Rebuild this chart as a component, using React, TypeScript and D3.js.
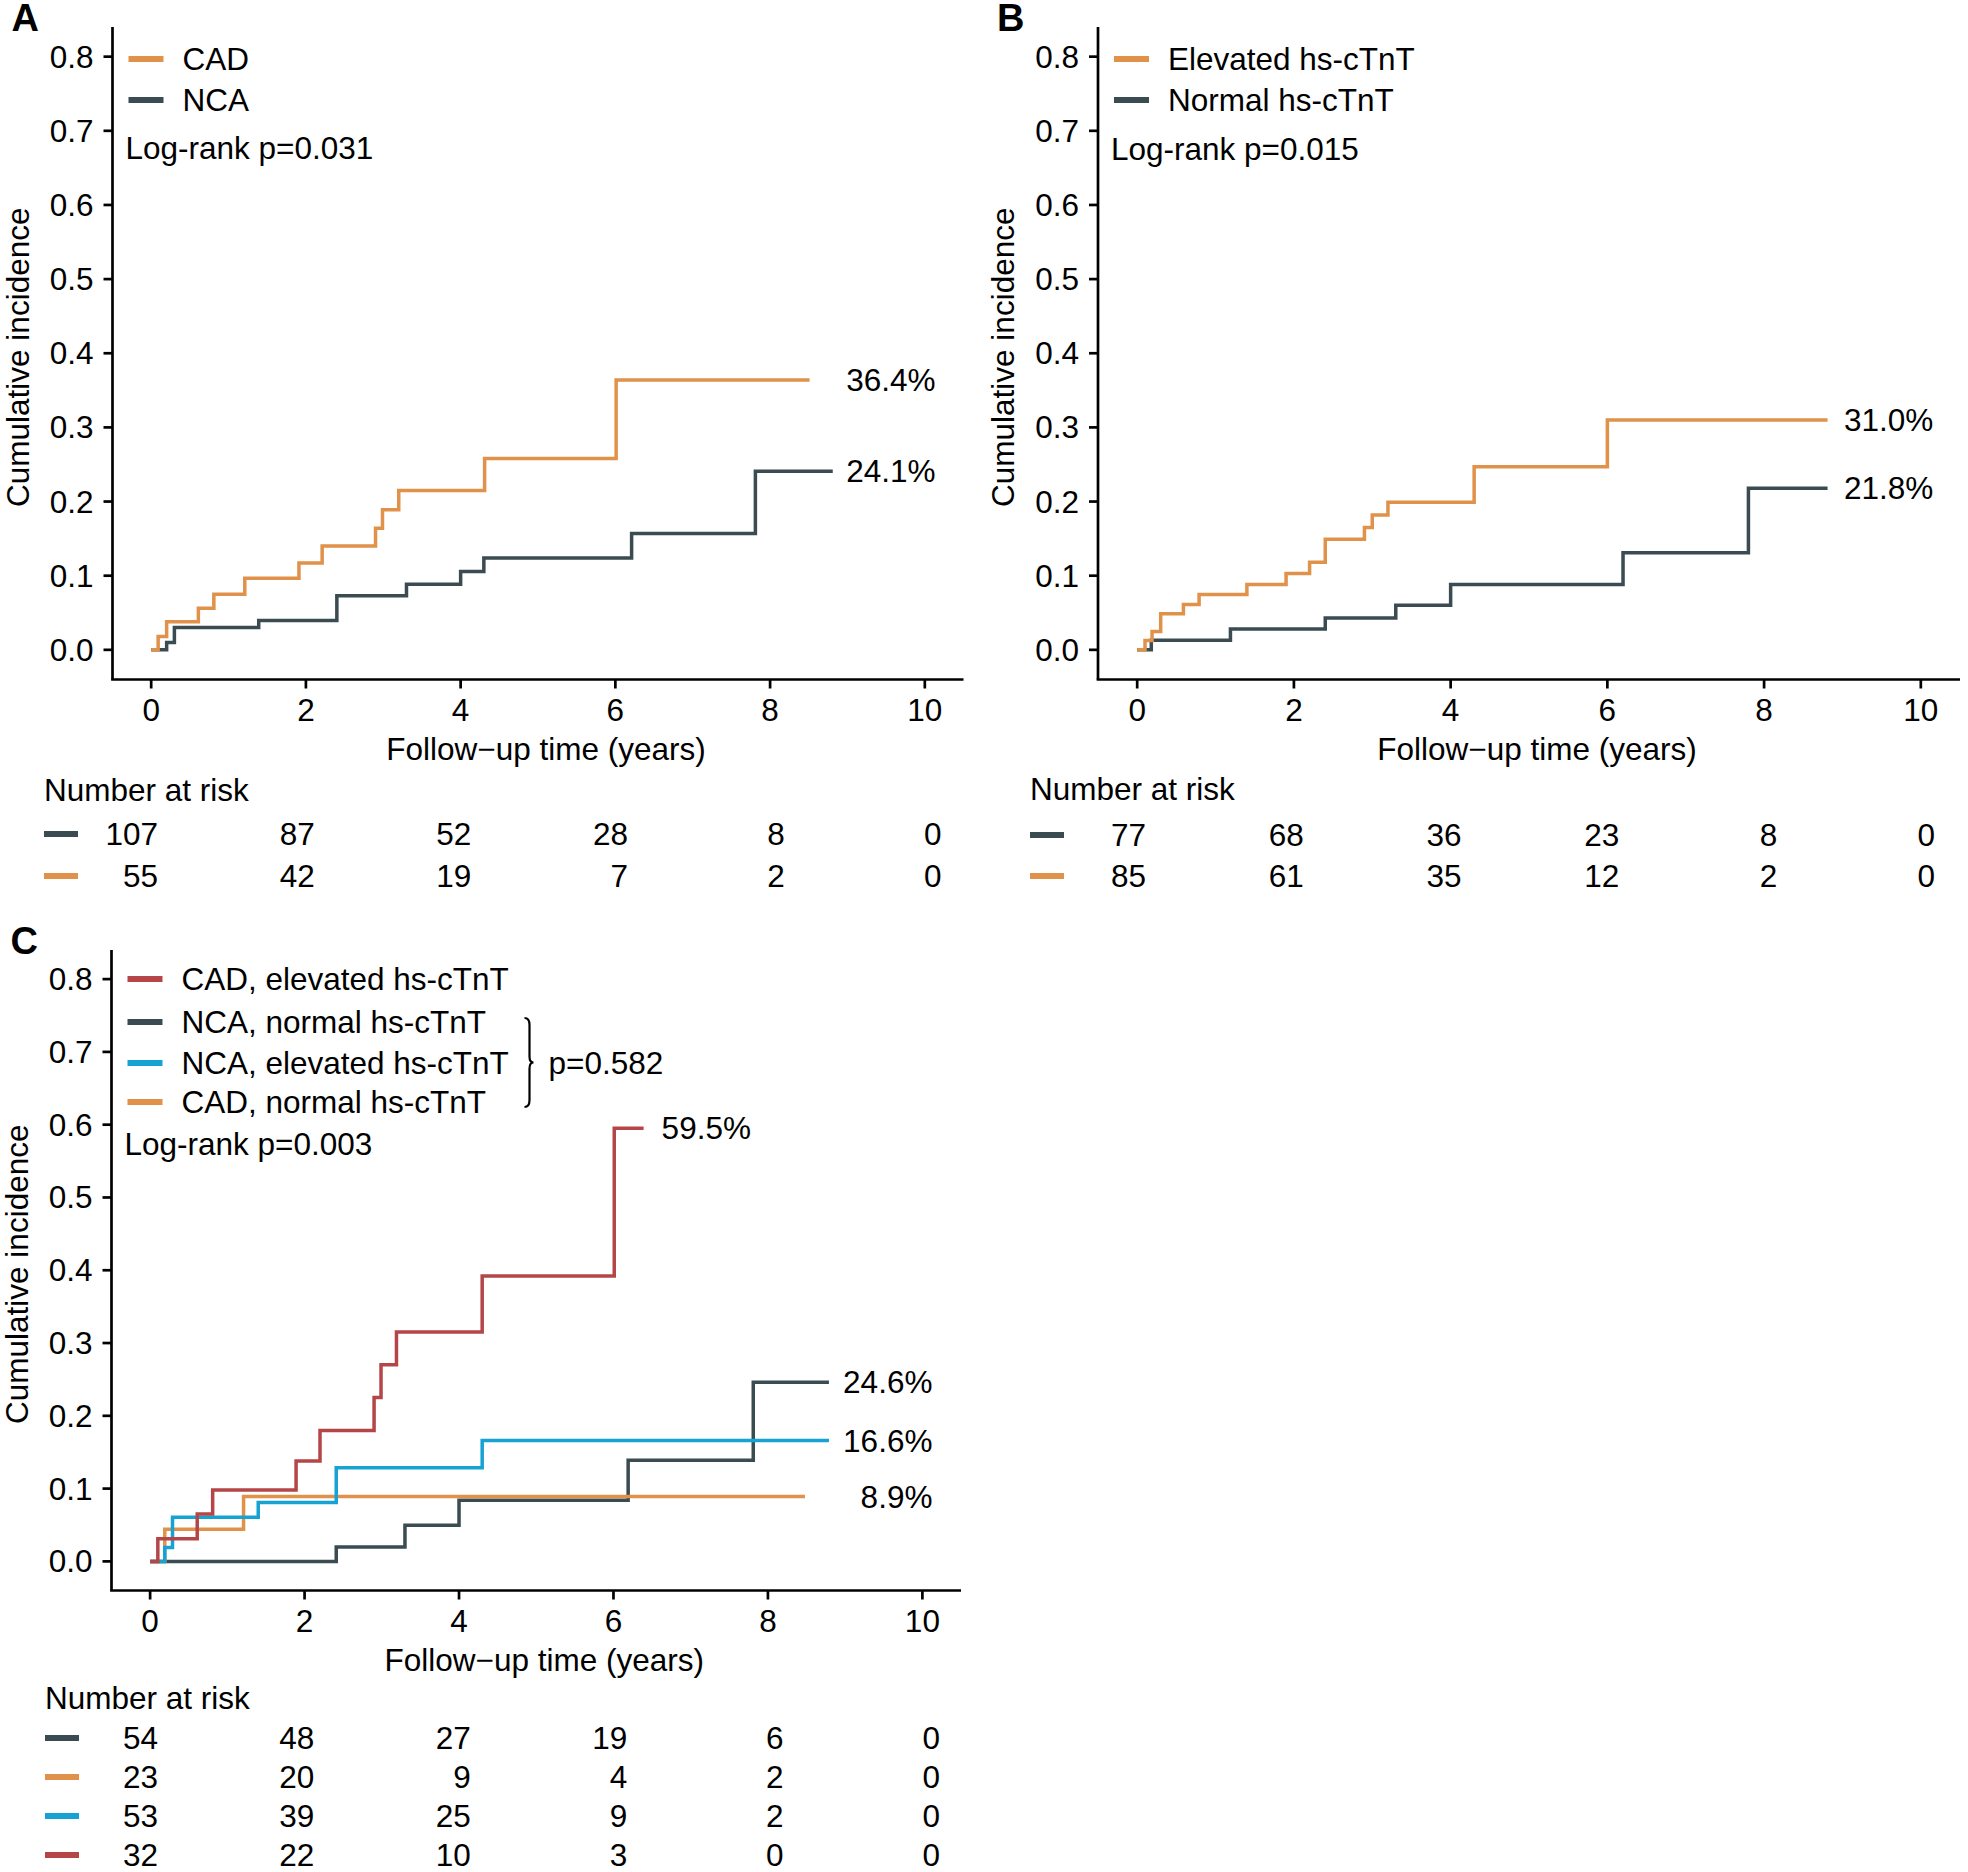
import React from "react";
import * as d3 from "d3";

// ---------- DATA ----------
const ORANGE = "#E0914A";
const DARK = "#3A4B52";
const RED = "#B44648";
const BLUE = "#17A2D4";

// Panel A
const aNcaTimes = [0, 0.2, 0.3, 1.39, 2.4, 3.3, 4.0, 4.3, 6.21, 7.81];
const aNcaValues = [0, 0.0098, 0.03, 0.0395, 0.073, 0.0885, 0.1055, 0.124, 0.157, 0.241];
const aNcaEnd = 8.81;
const aCadTimes = [0, 0.09, 0.2, 0.61, 0.81, 1.21, 1.91, 2.21, 2.9, 2.99, 3.2, 4.31, 6.01];
const aCadValues = [0, 0.018, 0.038, 0.056, 0.075, 0.0966, 0.117, 0.14, 0.164, 0.189, 0.215, 0.258, 0.364];
const aCadEnd = 8.51;

// Panel B
const bNormTimes = [0, 0.18, 1.19, 2.4, 3.3, 4.0, 6.2, 7.8];
const bNormValues = [0, 0.013, 0.028, 0.043, 0.06, 0.088, 0.131, 0.218];
const bNormEnd = 8.81;
const bElevTimes = [0, 0.1, 0.19, 0.3, 0.59, 0.79, 1.4, 1.9, 2.2, 2.4, 2.9, 3.0, 3.2, 4.3, 6.0];
const bElevValues = [0, 0.0126, 0.0247, 0.0488, 0.061, 0.0747, 0.088, 0.103, 0.118, 0.149, 0.165, 0.182, 0.199, 0.247, 0.31];
const bElevEnd = 8.81;

// Panel C
const cNcaNormTimes = [0, 2.41, 3.3, 4.0, 6.19, 7.81];
const cNcaNormValues = [0, 0.0199, 0.0496, 0.084, 0.139, 0.246];
const cNcaNormEnd = 8.79;
const cCadNormTimes = [0, 0.19, 1.21];
const cCadNormValues = [0, 0.044, 0.089];
const cCadNormEnd = 8.48;
const cNcaElevTimes = [0, 0.19, 0.29, 1.4, 2.41, 4.3];
const cNcaElevValues = [0, 0.019, 0.0605, 0.081, 0.1286, 0.166];
const cNcaElevEnd = 8.79;
const cCadElevTimes = [0, 0.1, 0.61, 0.81, 1.89, 2.2, 2.9, 2.99, 3.19, 4.3, 6.01];
const cCadElevValues = [0, 0.031, 0.065, 0.098, 0.138, 0.18, 0.225, 0.27, 0.315, 0.392, 0.595];
const cCadElevEnd = 6.39;

// Axis ticks
const xTicks = [0, 2, 4, 6, 8, 10];
const yTicks = [0, 0.1, 0.2, 0.3, 0.4, 0.5, 0.6, 0.7, 0.8];

// Risk tables
const riskTimes = [0, 2, 4, 6, 8, 10];
const aRiskNca = [107, 87, 52, 28, 8, 0];
const aRiskCad = [55, 42, 19, 7, 2, 0];
const bRiskNorm = [77, 68, 36, 23, 8, 0];
const bRiskElev = [85, 61, 35, 12, 2, 0];
const cRiskNcaNorm = [54, 48, 27, 19, 6, 0];
const cRiskCadNorm = [23, 20, 9, 4, 2, 0];
const cRiskNcaElev = [53, 39, 25, 9, 2, 0];
const cRiskCadElev = [32, 22, 10, 3, 0, 0];

// End labels
const aLabels = ["36.4%", "24.1%"];
const bLabels = ["31.0%", "21.8%"];
const cLabels = ["59.5%", "24.6%", "16.6%", "8.9%"];

const FONT = "'Liberation Sans', Arial, Helvetica, sans-serif";
const FS = 31.5;

type Series = { times: number[]; values: number[]; end: number; color: string };

function stepPath(s: Series, x: d3.ScaleLinear<number, number>, y: d3.ScaleLinear<number, number>) {
  const pts: [number, number][] = s.times.map((t, i) => [t, s.values[i]]);
  pts.push([s.end, s.values[s.values.length - 1]]);
  const line = d3
    .line<[number, number]>()
    .x((d) => x(d[0]))
    .y((d) => y(d[1]))
    .curve(d3.curveStepAfter);
  return line(pts) || "";
}

type PanelProps = {
  letter: string;
  left: number;
  right: number;
  top: number;
  bottom: number;
  series: Series[];
  legend: { label: string; color: string; y: number }[];
  logrank: { text: string; y: number };
  endLabels: { text: string; t: number; v: number }[];
  brace?: boolean;
};

function Panel(p: PanelProps) {
  const x = d3.scaleLinear().domain([-0.5, 10.5]).range([p.left, p.right]);
  const y = d3.scaleLinear().domain([-0.04, 0.84]).range([p.bottom, p.top]);
  const tick = 9;
  return (
    <g fontFamily={FONT} fontSize={FS} fill="#000">
      <text x={p.left - 101} y={p.top + 4} fontWeight="bold" fontSize={38}>
        {p.letter}
      </text>
      {/* axes */}
      <line x1={p.left} x2={p.left} y1={p.top} y2={p.bottom} stroke="#000" strokeWidth={2.7} />
      <line x1={p.left - 1.35} x2={p.right} y1={p.bottom} y2={p.bottom} stroke="#000" strokeWidth={2.7} />
      {yTicks.map((v) => (
        <g key={"y" + v}>
          <line x1={p.left - tick} x2={p.left} y1={y(v)} y2={y(v)} stroke="#000" strokeWidth={2.7} />
          <text x={p.left - 19} y={y(v)} textAnchor="end" dominantBaseline="central">
            {d3.format(".1f")(v)}
          </text>
        </g>
      ))}
      {xTicks.map((t) => (
        <g key={"x" + t}>
          <line x1={x(t)} x2={x(t)} y1={p.bottom} y2={p.bottom + tick} stroke="#000" strokeWidth={2.7} />
          <text x={x(t)} y={p.bottom + 30} textAnchor="middle" dominantBaseline="central">
            {t}
          </text>
        </g>
      ))}
      <text x={x(5) + 8} y={p.bottom + 69} textAnchor="middle" dominantBaseline="central">
        Follow−up time (years)
      </text>
      <text
        transform={`translate(${p.left - 95},${(p.top + p.bottom) / 2 + 4}) rotate(-90)`}
        textAnchor="middle"
        dominantBaseline="central"
      >
        Cumulative incidence
      </text>
      {/* curves */}
      {p.series.map((s, i) => (
        <path key={i} d={stepPath(s, x, y)} fill="none" stroke={s.color} strokeWidth={3.5} />
      ))}
      {p.endLabels.map((l, i) => (
        <text key={i} x={x(l.t)} y={y(l.v)} textAnchor="end" dominantBaseline="central">
          {l.text}
        </text>
      ))}
      {/* legend */}
      {p.legend.map((l, i) => (
        <g key={i}>
          <line x1={p.left + 16} x2={p.left + 51} y1={l.y} y2={l.y} stroke={l.color} strokeWidth={6} />
          <text x={p.left + 70} y={l.y} dominantBaseline="central">
            {l.label}
          </text>
        </g>
      ))}
      <text x={p.left + 13} y={p.logrank.y} dominantBaseline="central">
        {p.logrank.text}
      </text>
      {p.brace && (() => {
        const bx = p.left + 413;
        const t0 = p.legend[1].y - 4;
        const b0 = p.legend[3].y + 5;
        const m = (t0 + b0) / 2;
        const d = `M${bx},${t0} Q${bx + 5},${t0} ${bx + 5},${t0 + 7} L${bx + 5},${m - 6} Q${bx + 5},${m} ${bx + 9},${m} Q${bx + 5},${m} ${bx + 5},${m + 6} L${bx + 5},${b0 - 7} Q${bx + 5},${b0} ${bx},${b0}`;
        return (
          <g>
            <path d={d} fill="none" stroke="#000" strokeWidth={2.2} />
            <text x={bx + 24} y={m} dominantBaseline="central">
              p=0.582
            </text>
          </g>
        );
      })()}
    </g>
  );
}

type RiskProps = {
  left: number;
  titleY: number;
  rowYs: number[];
  rows: { values: number[]; color: string }[];
  r0: number;
  r10: number;
};

function RiskTable(p: RiskProps) {
  const x = d3.scaleLinear().domain([0, 10]).range([p.r0, p.r10]);
  return (
    <g fontFamily={FONT} fontSize={FS} fill="#000">
      <text x={p.left} y={p.titleY} dominantBaseline="central">
        Number at risk
      </text>
      {p.rows.map((r, i) => (
        <g key={i}>
          <line x1={p.left} x2={p.left + 34} y1={p.rowYs[i]} y2={p.rowYs[i]} stroke={r.color} strokeWidth={6} />
          {riskTimes.map((t, j) => (
            <text key={j} x={x(t)} y={p.rowYs[i]} textAnchor="end" dominantBaseline="central">
              {r.values[j]}
            </text>
          ))}
        </g>
      ))}
    </g>
  );
}

export default function App() {
  const aSeries: Series[] = [
    { times: aNcaTimes, values: aNcaValues, end: aNcaEnd, color: DARK },
    { times: aCadTimes, values: aCadValues, end: aCadEnd, color: ORANGE },
  ];
  const bSeries: Series[] = [
    { times: bNormTimes, values: bNormValues, end: bNormEnd, color: DARK },
    { times: bElevTimes, values: bElevValues, end: bElevEnd, color: ORANGE },
  ];
  const cSeries: Series[] = [
    { times: cNcaNormTimes, values: cNcaNormValues, end: cNcaNormEnd, color: DARK },
    { times: cCadNormTimes, values: cCadNormValues, end: cCadNormEnd, color: ORANGE },
    { times: cNcaElevTimes, values: cNcaElevValues, end: cNcaElevEnd, color: BLUE },
    { times: cCadElevTimes, values: cCadElevValues, end: cCadElevEnd, color: RED },
  ];
  return (
    <svg
      width={1968}
      height={1872}
      style={{ position: "absolute", left: 0, top: 0, background: "#fff" }}
    >
      <rect width={1968} height={1872} fill="#fff" />
      <Panel
        letter="A"
        left={112.5}
        right={963.5}
        top={27}
        bottom={679.5}
        series={aSeries}
        legend={[
          { label: "CAD", color: ORANGE, y: 59 },
          { label: "NCA", color: DARK, y: 100 },
        ]}
        logrank={{ text: "Log-rank p=0.031", y: 148 }}
        endLabels={[
          { text: aLabels[0], t: 10.14, v: aCadValues[aCadValues.length - 1] },
          { text: aLabels[1], t: 10.14, v: aNcaValues[aNcaValues.length - 1] },
        ]}
      />
      <Panel
        letter="B"
        left={1098}
        right={1960}
        top={27}
        bottom={679.5}
        series={bSeries}
        legend={[
          { label: "Elevated hs-cTnT", color: ORANGE, y: 59 },
          { label: "Normal hs-cTnT", color: DARK, y: 100 },
        ]}
        logrank={{ text: "Log-rank p=0.015", y: 149 }}
        endLabels={[
          { text: bLabels[0], t: 10.16, v: bElevValues[bElevValues.length - 1] },
          { text: bLabels[1], t: 10.16, v: bNormValues[bNormValues.length - 1] },
        ]}
      />
      <Panel
        letter="C"
        left={111.5}
        right={961}
        top={950}
        bottom={1590.5}
        series={cSeries}
        legend={[
          { label: "CAD, elevated hs-cTnT", color: RED, y: 979 },
          { label: "NCA, normal hs-cTnT", color: DARK, y: 1022 },
          { label: "NCA, elevated hs-cTnT", color: BLUE, y: 1063 },
          { label: "CAD, normal hs-cTnT", color: ORANGE, y: 1102 },
        ]}
        logrank={{ text: "Log-rank p=0.003", y: 1144 }}
        endLabels={[
          { text: cLabels[0], t: 7.78, v: cCadElevValues[cCadElevValues.length - 1] },
          { text: cLabels[1], t: 10.13, v: cNcaNormValues[cNcaNormValues.length - 1] },
          { text: cLabels[2], t: 10.13, v: cNcaElevValues[cNcaElevValues.length - 1] },
          { text: cLabels[3], t: 10.13, v: cCadNormValues[cCadNormValues.length - 1] },
        ]}
        brace
      />
      <RiskTable
        left={44}
        titleY={790}
        rowYs={[834, 876]}
        rows={[
          { values: aRiskNca, color: DARK },
          { values: aRiskCad, color: ORANGE },
        ]}
        r0={158}
        r10={941.5}
      />
      <RiskTable
        left={1030}
        titleY={789}
        rowYs={[835, 876]}
        rows={[
          { values: bRiskNorm, color: DARK },
          { values: bRiskElev, color: ORANGE },
        ]}
        r0={1146}
        r10={1935}
      />
      <RiskTable
        left={45}
        titleY={1698}
        rowYs={[1738, 1777, 1816, 1855]}
        rows={[
          { values: cRiskNcaNorm, color: DARK },
          { values: cRiskCadNorm, color: ORANGE },
          { values: cRiskNcaElev, color: BLUE },
          { values: cRiskCadElev, color: RED },
        ]}
        r0={158}
        r10={940}
      />
    </svg>
  );
}
